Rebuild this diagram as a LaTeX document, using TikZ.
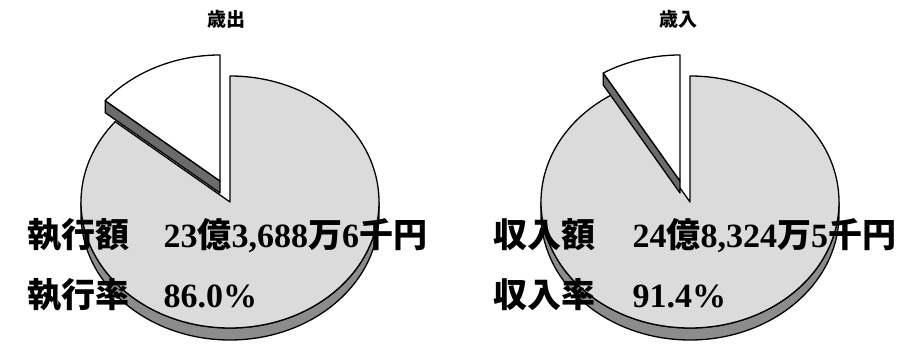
\documentclass[tikz,border=0pt]{standalone}
\usepackage{fontspec}
\newfontfamily\cjk{Noto Sans CJK JP}
\newfontfamily\numfont{Liberation Serif}
\definecolor{pieface}{gray}{0.86}
\definecolor{piewall}{gray}{0.55}
\definecolor{slicewall}{gray}{0.42}
\newcommand{\piechart}[3] % centre x, centre y, end angle of the cut slice
{
	% side wall of the big slice
	\filldraw[fill=piewall] ({#1-149},#2) arc[start angle=180, end angle=360, x radius=149pt, y radius=126pt] -- ++(0,-12) arc[start angle=360, end angle=180, x radius=149pt, y radius=126pt] -- cycle;
	% top of the big slice
	\filldraw[fill=pieface] (#1,#2) -- ++(0,126) arc[start angle=90, end angle=#3-360, x radius=149pt, y radius=126pt] -- cycle;
	% cut face of the moved slice
	\filldraw[fill=slicewall] ({#1-10},{#2+21}) -- ++(#3:149pt and 126pt) -- ++(0,-12) -- ({#1-10},{#2+9}) -- cycle;
	% top of the moved slice
	\filldraw[fill=white] ({#1-10},{#2+21}) -- ++(0,126) arc[start angle=90, end angle=#3, x radius=149pt, y radius=126pt] -- cycle;
}
\newcommand{\jp}[1]{{\cjk #1}}
\newcommand{\nm}[1]{{\numfont #1}}

\begin{document}
\begin{tikzpicture}[x=1pt, y=1pt, line width=1.3pt, line join=round,
	title/.style={font=\cjk\bfseries\fontsize{19}{19}\selectfont, inner sep=0pt},
	big/.style={font=\bfseries\fontsize{34}{34}\selectfont, inner sep=0pt, anchor=base west}]
	\useasboundingbox (0,0) rectangle (921,350);
	% outlay 86.0 %, income 91.4 %
	\piechart{230}{148}{140.4};
	\piechart{690}{148}{121};
	
	\node[title] (outtitle) at (226,331) {歳出};
	\node[title] (intitle) at (678,331) {歳入};
	
	\node[big] (outkey) at (27,102) {\jp{執行額}};
	\node[big] (outval) at (163,102) {\nm{23}\jp{億}\nm{3,688}\jp{万}\nm{6}\jp{千円}};
	\node[big] (ratekey) at (27,42) {\jp{執行率}};
	\node[big] (rateval) at (163,42) {\nm{86.0\%}};
	
	\node[big] (inkey) at (493,102) {\jp{収入額}};
	\node[big] (inval) at (632,102) {\nm{24}\jp{億}\nm{8,324}\jp{万}\nm{5}\jp{千円}};
	\node[big] (inratekey) at (493,42) {\jp{収入率}};
	\node[big] (inrateval) at (632,42) {\nm{91.4\%}};
\end{tikzpicture}
\end{document}
